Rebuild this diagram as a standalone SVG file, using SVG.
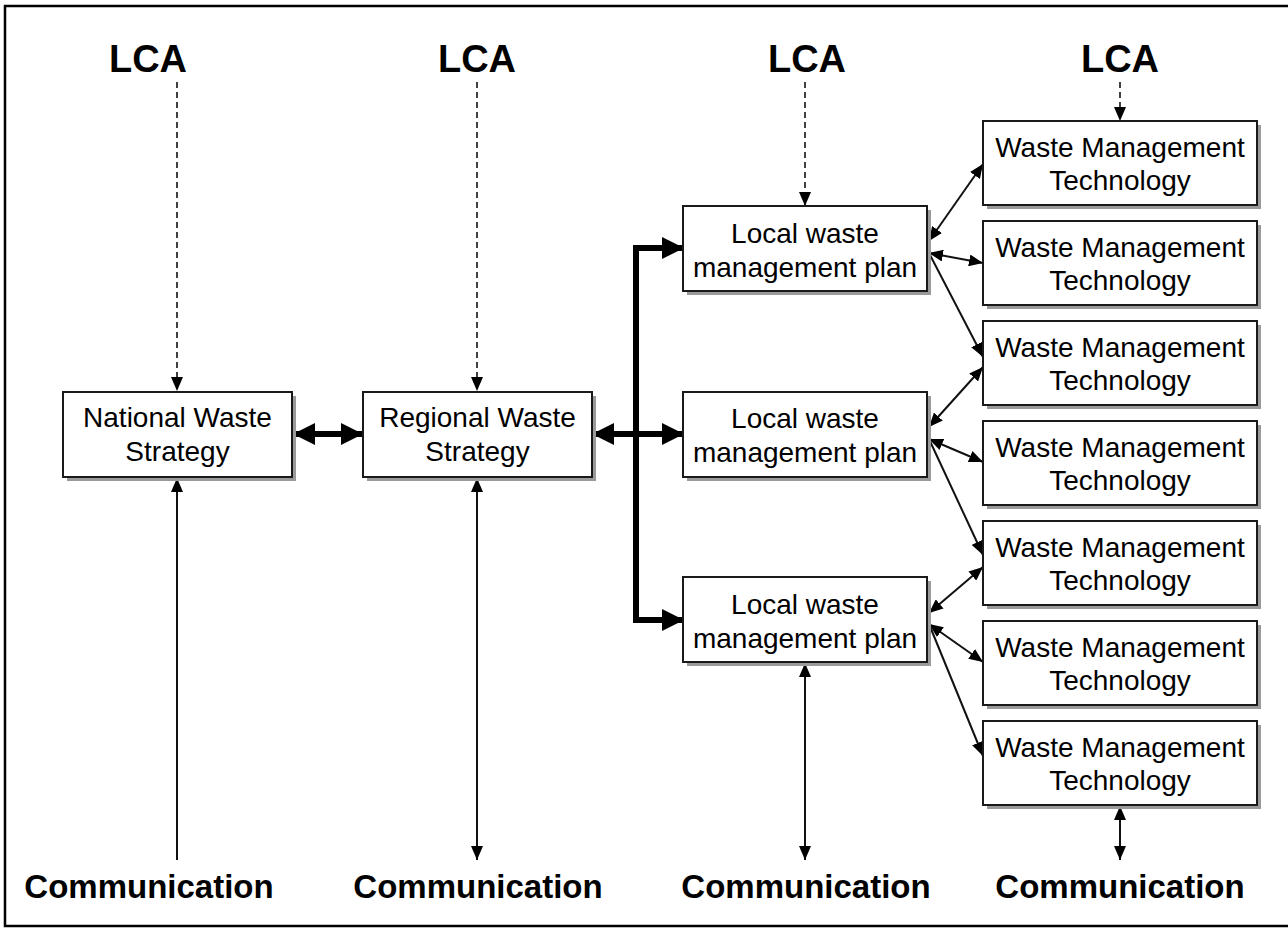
<svg xmlns="http://www.w3.org/2000/svg" width="1288" height="928" viewBox="0 0 1288 928">
<style>
.box{fill:#fff;stroke:#1a1a1a;stroke-width:2}
.sh{fill:#9a9a9a}
.t{font-family:"Liberation Sans",Arial,sans-serif;font-size:28px;fill:#000;text-anchor:middle}
.b{font-family:"Liberation Sans",Arial,sans-serif;font-weight:bold;fill:#000;text-anchor:middle}
.dash{stroke:#111;stroke-width:1.6;stroke-dasharray:6,4;fill:none}
.thin{stroke:#111;stroke-width:2;fill:none}
.thick{stroke:#000;stroke-width:6;fill:none}
</style>
<defs>
<marker id="ah" markerUnits="userSpaceOnUse" markerWidth="14" markerHeight="12" refX="14" refY="6" orient="auto-start-reverse" viewBox="0 0 14 12"><path d="M0,0 L14,6 L0,12 z" fill="#000"/></marker>
<marker id="ahT" markerUnits="userSpaceOnUse" markerWidth="22" markerHeight="22" refX="21" refY="11" orient="auto-start-reverse" viewBox="0 0 22 22"><path d="M0,0 L22,11 L0,22 z" fill="#000"/></marker>
</defs>
<rect x="0" y="0" width="1288" height="928" fill="#fff"/>
<rect x="5" y="6" width="1290" height="920" fill="none" stroke="#000" stroke-width="2.5"/>
<g id="labels">
<text class="b" x="148" y="72" font-size="38">LCA</text>
<text class="b" x="477" y="72" font-size="38">LCA</text>
<text class="b" x="807" y="72" font-size="38">LCA</text>
<text class="b" x="1120" y="72" font-size="38">LCA</text>
<text class="b" x="149" y="898" font-size="33">Communication</text>
<text class="b" x="478" y="898" font-size="33">Communication</text>
<text class="b" x="806" y="898" font-size="33">Communication</text>
<text class="b" x="1120" y="898" font-size="33">Communication</text>
</g>
<g id="connectors">
<line class="dash" x1="177" y1="82" x2="177" y2="391" marker-end="url(#ah)"/>
<line class="dash" x1="477" y1="82" x2="477" y2="391" marker-end="url(#ah)"/>
<line class="dash" x1="805" y1="82" x2="805" y2="206" marker-end="url(#ah)"/>
<line class="dash" x1="1120" y1="82" x2="1120" y2="121" marker-end="url(#ah)"/>
<line class="thin" x1="177" y1="860" x2="177" y2="478" marker-end="url(#ah)"/>
<line class="thin" x1="477" y1="478" x2="477" y2="860" marker-start="url(#ah)" marker-end="url(#ah)"/>
<line class="thin" x1="805" y1="663" x2="805" y2="860" marker-start="url(#ah)" marker-end="url(#ah)"/>
<line class="thin" x1="1120" y1="806" x2="1120" y2="860" marker-start="url(#ah)" marker-end="url(#ah)"/>
<line class="thick" x1="294" y1="434" x2="362" y2="434" marker-start="url(#ahT)" marker-end="url(#ahT)"/>
<line class="thick" x1="593" y1="434" x2="683" y2="434" marker-start="url(#ahT)" marker-end="url(#ahT)"/>
<path class="thick" d="M683,248 L636,248 L636,620 L683,620" marker-start="url(#ahT)" marker-end="url(#ahT)"/>
<line class="thin" x1="929" y1="241" x2="983" y2="164" marker-start="url(#ah)" marker-end="url(#ah)"/>
<line class="thin" x1="929" y1="253" x2="983" y2="263" marker-start="url(#ah)" marker-end="url(#ah)"/>
<line class="thin" x1="929" y1="253" x2="983" y2="357" marker-end="url(#ah)"/>
<line class="thin" x1="929" y1="427" x2="983" y2="367" marker-start="url(#ah)" marker-end="url(#ah)"/>
<line class="thin" x1="929" y1="439" x2="983" y2="462" marker-start="url(#ah)" marker-end="url(#ah)"/>
<line class="thin" x1="929" y1="439" x2="983" y2="555" marker-end="url(#ah)"/>
<line class="thin" x1="929" y1="613" x2="983" y2="567" marker-start="url(#ah)" marker-end="url(#ah)"/>
<line class="thin" x1="929" y1="624" x2="983" y2="662" marker-start="url(#ah)" marker-end="url(#ah)"/>
<line class="thin" x1="929" y1="624" x2="983" y2="756" marker-end="url(#ah)"/>
</g>
<g id="national"><rect class="sh" x="67" y="396" width="229" height="85"/><rect class="box" x="63" y="392" width="229" height="85"/><text class="t" x="177.5" y="427">National Waste</text><text class="t" x="177.5" y="461">Strategy</text></g>
<g id="regional"><rect class="sh" x="367" y="396" width="229" height="85"/><rect class="box" x="363" y="392" width="229" height="85"/><text class="t" x="477.5" y="427">Regional Waste</text><text class="t" x="477.5" y="461">Strategy</text></g>
<g id="local1"><rect class="sh" x="687" y="210" width="244" height="85"/><rect class="box" x="683" y="206" width="244" height="85"/><text class="t" x="805" y="243">Local waste</text><text class="t" x="805" y="277">management plan</text></g>
<g id="local2"><rect class="sh" x="687" y="396" width="244" height="85"/><rect class="box" x="683" y="392" width="244" height="85"/><text class="t" x="805" y="428">Local waste</text><text class="t" x="805" y="462">management plan</text></g>
<g id="local3"><rect class="sh" x="687" y="581" width="244" height="85"/><rect class="box" x="683" y="577" width="244" height="85"/><text class="t" x="805" y="614">Local waste</text><text class="t" x="805" y="648">management plan</text></g>
<g id="wmt1"><rect class="sh" x="987" y="125" width="274" height="84"/><rect class="box" x="983" y="121" width="274" height="84"/><text class="t" x="1120" y="157">Waste Management</text><text class="t" x="1120" y="190">Technology</text></g>
<g id="wmt2"><rect class="sh" x="987" y="225" width="274" height="84"/><rect class="box" x="983" y="221" width="274" height="84"/><text class="t" x="1120" y="257">Waste Management</text><text class="t" x="1120" y="290">Technology</text></g>
<g id="wmt3"><rect class="sh" x="987" y="325" width="274" height="84"/><rect class="box" x="983" y="321" width="274" height="84"/><text class="t" x="1120" y="357">Waste Management</text><text class="t" x="1120" y="390">Technology</text></g>
<g id="wmt4"><rect class="sh" x="987" y="425" width="274" height="84"/><rect class="box" x="983" y="421" width="274" height="84"/><text class="t" x="1120" y="457">Waste Management</text><text class="t" x="1120" y="490">Technology</text></g>
<g id="wmt5"><rect class="sh" x="987" y="525" width="274" height="84"/><rect class="box" x="983" y="521" width="274" height="84"/><text class="t" x="1120" y="557">Waste Management</text><text class="t" x="1120" y="590">Technology</text></g>
<g id="wmt6"><rect class="sh" x="987" y="625" width="274" height="84"/><rect class="box" x="983" y="621" width="274" height="84"/><text class="t" x="1120" y="657">Waste Management</text><text class="t" x="1120" y="690">Technology</text></g>
<g id="wmt7"><rect class="sh" x="987" y="725" width="274" height="84"/><rect class="box" x="983" y="721" width="274" height="84"/><text class="t" x="1120" y="757">Waste Management</text><text class="t" x="1120" y="790">Technology</text></g>
</svg>
